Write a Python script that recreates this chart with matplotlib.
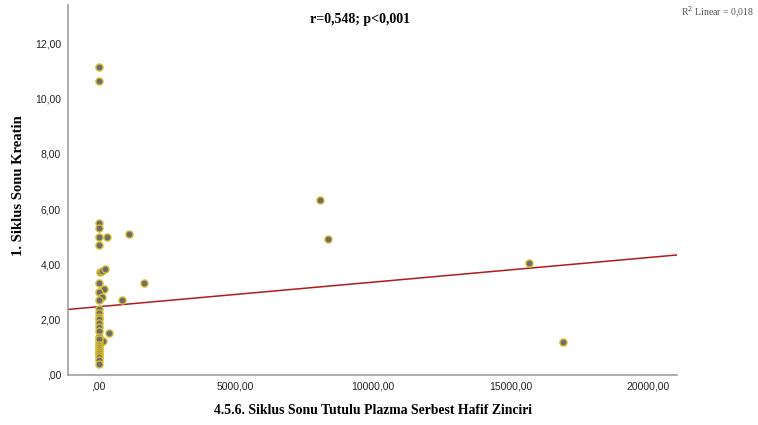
import matplotlib
matplotlib.use("Agg")
import matplotlib.pyplot as plt
import numpy as np
from matplotlib.ticker import FuncFormatter

# Free light chain (x) vs creatinine (y)
x_vals = [30, 30, 20, 20, 20, 316, 1138, 20,
          60, 150, 250,
          20, 1662, 236, 40, 150, 20, 862,
          20, 20, 20, 20, 20, 20, 20, 400, 20, 172, 20,
          20, 20, 20, 20, 20, 20, 20, 20, 20, 20,
          8073, 8364, 15684, 16898]
y_vals = [11.14, 10.64, 5.51, 5.32, 4.99, 4.99, 5.10, 4.70,
          3.72, 3.76, 3.82,
          3.34, 3.32, 3.11, 2.99, 2.81, 2.70, 2.70,
          2.40, 2.23, 2.09, 2.04, 1.89, 1.75, 1.60, 1.51, 1.36, 1.24, 1.20,
          1.30, 1.10, 1.02, 0.95, 0.88, 0.80, 0.72, 0.65, 0.54, 0.41,
          6.33, 4.91, 4.04, 1.18]

# Linear fit line
fit_intercept = 2.47
fit_slope = 8.9e-5

x_ticks = [0, 5000, 10000, 15000, 20000]
y_ticks = [0, 2, 4, 6, 8, 10, 12]

title_text = "r=0,548; p<0,001"
r2_text = "R$^2$ Linear = 0,018"
x_label = "4.5.6. Siklus Sonu Tutulu Plazma Serbest Hafif Zinciri"
y_label = "1. Siklus Sonu Kreatin"

serif = ["Liberation Serif", "DejaVu Serif"]

fig = plt.figure(figsize=(7.58, 4.25), dpi=100)
ax = fig.add_axes([68/758, 50/425, 609/758, 370/425])

xmin, xmax = -1091, 21055
ymin, ymax = 0, 13.39
ax.set_xlim(xmin, xmax)
ax.set_ylim(ymin, ymax)

xs = np.array([xmin, xmax])
ax.plot(xs, fit_intercept + fit_slope * xs, color="#b01c1c", lw=1.1, zorder=2)

ax.scatter(x_vals, y_vals, s=26, facecolor="#6c6c72", edgecolor="#d8bc2c",
           linewidth=1.0, zorder=3)

fmt = FuncFormatter(lambda v, p: ("%.2f" % v).replace(".", ",").lstrip("0") if abs(v) < 1 else ("%.2f" % v).replace(".", ","))
ax.set_xticks(x_ticks)
ax.set_yticks(y_ticks)
ax.xaxis.set_major_formatter(fmt)
ax.yaxis.set_major_formatter(fmt)
ax.tick_params(axis="x", length=0, labelsize=7.5, colors="#222222", pad=5)
ax.tick_params(axis="y", length=0, labelsize=7.5, colors="#222222", pad=5)
for lbl in ax.get_xticklabels() + ax.get_yticklabels():
    lbl.set_family("Liberation Sans")

for s in ["top", "right"]:
    ax.spines[s].set_visible(False)
for s in ["left", "bottom"]:
    ax.spines[s].set_color("#a0a0a0")
    ax.spines[s].set_linewidth(1.2)

fig.text(373/758, 1 - 410/425, x_label, ha="center", va="center",
         fontsize=9.9, fontweight="bold", family=serif)
fig.text(19/758, 1 - 186/425, y_label, ha="center", va="center", rotation=90,
         fontsize=10.5, fontweight="bold", family=serif)
fig.text(360/758, 1 - 20/425, title_text, ha="center", va="center",
         fontsize=10, fontweight="bold", family=serif)
fig.text(754/758, 1 - 12/425, r2_text, ha="right", va="center",
         fontsize=7, color="#555555", family=serif)

fig.savefig("out.png", dpi=100)
